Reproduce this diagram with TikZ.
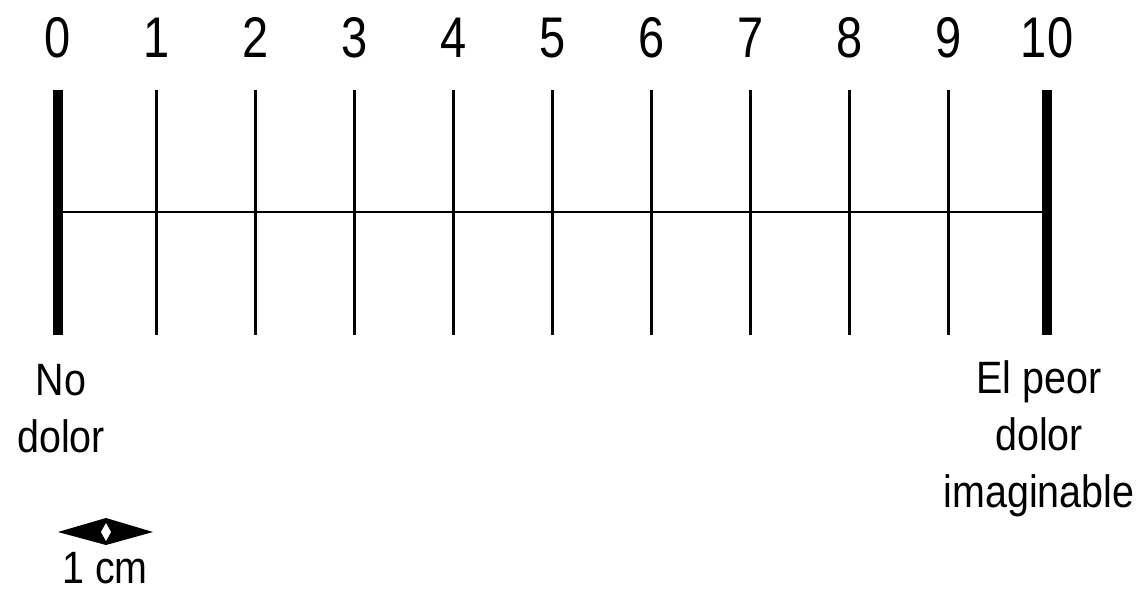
\documentclass[tikz,border=0pt]{standalone}
\usepackage{fontspec}
\setmainfont{Liberation Sans}[FakeStretch=0.87]
\newfontfamily\numfont{Liberation Sans}[FakeStretch=0.82]
\begin{document}
\begin{tikzpicture}[x=0.75pt,y=-0.75pt,
  numlbl/.style={font=\numfont\fontsize{43}{50}\selectfont, anchor=base, inner sep=0pt},
  endlbl/.style={font=\fontsize{34}{42.75}\selectfont, align=center, anchor=base, inner sep=0pt},
  thintick/.style={line width=2.3pt},
  thicktick/.style={line width=7.5pt},
  axisline/.style={line width=2pt}]
\useasboundingbox (0,0) rectangle (1147,597);
\foreach \i in {0,...,10} {
  \pgfmathsetmacro{\xx}{58+98.9*\i}
  \coordinate (t\i) at (\xx,90);
  \coordinate (b\i) at (\xx,335);
  \node[numlbl] (n\i) at (\xx,57) {\i};
}
\draw[axisline] (t0 |- 0,212) coordinate (l) -- (t10 |- 0,212) coordinate (r);
\foreach \i in {1,...,9} { \draw[thintick] (t\i) -- (b\i); }
\draw[thicktick] (t0) -- (b0);
\draw[thicktick] (t10) -- (b10);
\node[endlbl] (nodolor) at (61,452) {No\\dolor};
\node[endlbl] (peor) at (1039,507) {El peor\\dolor\\imaginable};
\coordinate (sc) at (106,532);
\fill[black] (58,532) -- (106,518) -- (153,532) -- (106,545) -- cycle;
\fill[white] (106,523) -- (111,532) -- (106,541) -- (101,532) -- cycle;
\node[font=\fontsize{34}{42}\selectfont, anchor=base, inner sep=0pt] (cm) at (105,583) {1 cm};
\end{tikzpicture}
\end{document}
